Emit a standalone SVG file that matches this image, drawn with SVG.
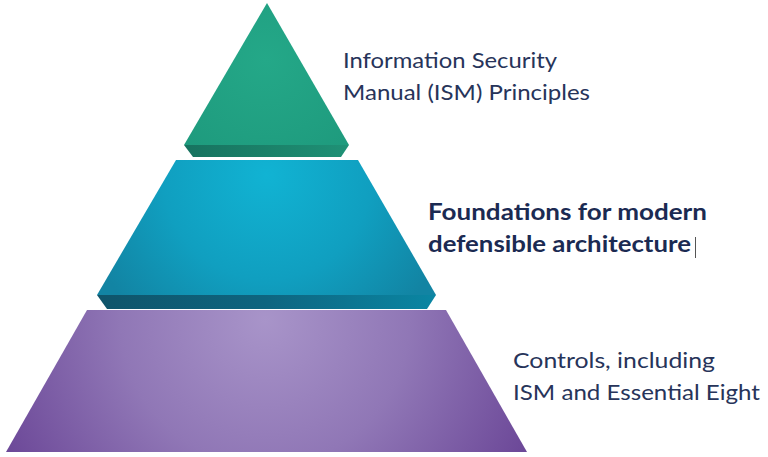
<svg xmlns="http://www.w3.org/2000/svg" width="768" height="457" viewBox="0 0 768 457">
<defs>
<radialGradient id="gGreen" cx="266" cy="60" r="120" gradientUnits="userSpaceOnUse">
<stop offset="0" stop-color="#24a888"/>
<stop offset="1" stop-color="#1e9a7d"/>
</radialGradient>
<linearGradient id="gGreenBand" x1="184" y1="0" x2="349" y2="0" gradientUnits="userSpaceOnUse">
<stop offset="0" stop-color="#17725f"/>
<stop offset="0.5" stop-color="#1b8169"/>
<stop offset="1" stop-color="#1f9176"/>
</linearGradient>
<radialGradient id="gTeal" cx="267" cy="175" r="190" gradientUnits="userSpaceOnUse">
<stop offset="0" stop-color="#11b3d3"/>
<stop offset="0.55" stop-color="#109fc0"/>
<stop offset="1" stop-color="#1284a3"/>
</radialGradient>
<linearGradient id="gTealBand" x1="97" y1="0" x2="436" y2="0" gradientUnits="userSpaceOnUse">
<stop offset="0" stop-color="#0f546a"/>
<stop offset="0.5" stop-color="#0e6580"/>
<stop offset="1" stop-color="#0a86a3"/>
</linearGradient>
<radialGradient id="gPurple" cx="265" cy="320" r="290" gradientUnits="userSpaceOnUse">
<stop offset="0" stop-color="#a894c9"/>
<stop offset="0.5" stop-color="#9077b6"/>
<stop offset="1" stop-color="#6c4898"/>
</radialGradient>
</defs>
<style>
.lbl{font-family:Lato,"Noto Sans",sans-serif;font-size:22px;fill:#27345a;}
.bold{font-family:Lato,"Noto Sans",sans-serif;font-size:22px;font-weight:bold;fill:#1b2a52;}
</style>
<g id="layer-bottom">
<polygon points="87,310 446,310 527,452 6,452" fill="url(#gPurple)"/>
</g>
<g id="layer-middle">
<polygon points="97,295 436,295 427,309 107,309" fill="url(#gTealBand)"/>
<polygon points="176,160 358,160 436,295 97,295" fill="url(#gTeal)"/>
</g>
<g id="layer-top">
<polygon points="184,145 349,145 341,157 193,157" fill="url(#gGreenBand)"/>
<polygon points="267,3 349,145 184,145" fill="url(#gGreen)"/>
</g>
<g id="connectors"/>
<g id="label-top">
<text class="lbl" x="343" y="68" textLength="214" lengthAdjust="spacingAndGlyphs">Information Security</text>
<text class="lbl" x="343" y="100" textLength="247" lengthAdjust="spacingAndGlyphs">Manual (ISM) Principles</text>
</g>
<g id="label-middle">
<text class="bold" x="428" y="220" textLength="279" lengthAdjust="spacingAndGlyphs">Foundations for modern</text>
<text class="bold" x="428" y="252" textLength="263" lengthAdjust="spacingAndGlyphs">defensible architecture</text>
<line x1="695.5" y1="237" x2="695.5" y2="258" stroke="#555" stroke-width="1"/>
</g>
<g id="label-bottom">
<text class="lbl" x="513" y="368" textLength="202" lengthAdjust="spacingAndGlyphs">Controls, including</text>
<text class="lbl" x="513" y="400" textLength="247" lengthAdjust="spacingAndGlyphs">ISM and Essential Eight</text>
</g>
</svg>
